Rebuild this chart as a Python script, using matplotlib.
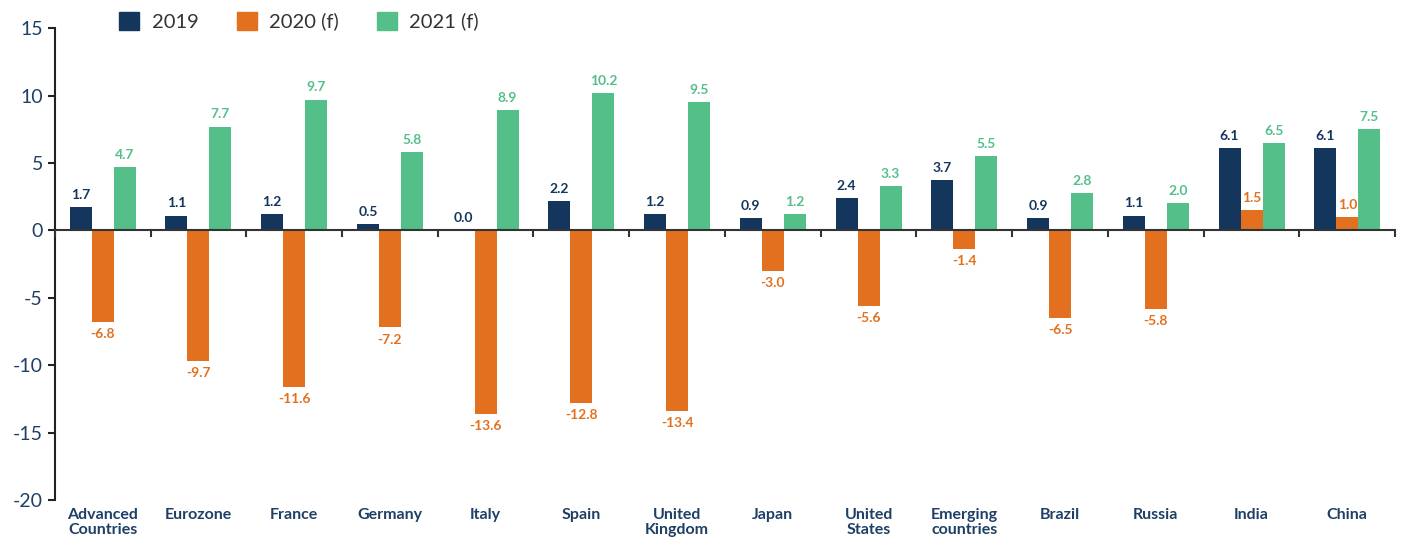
import numpy as np
import matplotlib.pyplot as plt
from matplotlib.patches import Patch

categories = ["Advanced\nCountries", "Eurozone", "France", "Germany", "Italy", "Spain",
              "United\nKingdom", "Japan", "United\nStates", "Emerging\ncountries",
              "Brazil", "Russia", "India", "China"]
series_names = ["2019", "2020 (f)", "2021 (f)"]
v2019 = [1.7, 1.1, 1.2, 0.5, 0.0, 2.2, 1.2, 0.9, 2.4, 3.7, 0.9, 1.1, 6.1, 6.1]
v2020 = [-6.8, -9.7, -11.6, -7.2, -13.6, -12.8, -13.4, -3.0, -5.6, -1.4, -6.5, -5.8, 1.5, 1.0]
v2021 = [4.7, 7.7, 9.7, 5.8, 8.9, 10.2, 9.5, 1.2, 3.3, 5.5, 2.8, 2.0, 6.5, 7.5]

colors = ["#14365D", "#E2701F", "#55BF8A"]
navy = "#1F3F66"

plt.rcParams['font.family'] = ['Lato', 'DejaVu Sans']
plt.rcParams['axes.unicode_minus'] = False

fig = plt.figure(figsize=(14.05, 5.4), dpi=100)
ax = fig.add_axes([0.039, 0.074, 0.954, 0.874])

x = np.arange(len(categories))
w = 0.23
for i, vals in enumerate([v2019, v2020, v2021]):
    pos = x + (i - 1) * w
    ax.bar(pos, vals, width=w, color=colors[i], zorder=2)
    for px, v in zip(pos, vals):
        off = 0.45 if v >= 0 else -0.45
        ax.text(px, v + off, f"{v:.1f}", ha="center", va="bottom" if v >= 0 else "top",
                fontsize=10, fontweight="bold", color=colors[i])

# zero line with category separator ticks
ax.axhline(0, color="#333333", lw=1.5, zorder=3)
for b in np.arange(len(categories) + 1) - 0.5:
    ax.plot([b, b], [0, -0.4], color="#333333", lw=1.5, zorder=3, clip_on=False)

ax.set_xlim(-0.5, len(categories) - 0.5)
ax.set_ylim(-20, 15)
ax.set_yticks(np.arange(-20, 16, 5))
ax.set_xticks(x)
ax.set_xticklabels(categories, fontsize=11.5, fontweight="bold", color=navy, linespacing=1.05)
ax.tick_params(axis="x", length=0, pad=6)
ax.tick_params(axis="y", labelsize=14, labelcolor=navy, color="#222222",
               length=5, width=1.5, direction="out")
for s in ["top", "right", "bottom"]:
    ax.spines[s].set_visible(False)
ax.spines["left"].set_color("#222222")
ax.spines["left"].set_linewidth(1.5)

handles = [Patch(color=c, label=n) for c, n in zip(colors, series_names)]
fig.legend(handles=handles, loc="upper left", bbox_to_anchor=(0.072, 1.012), ncol=3,
           frameon=False, fontsize=14.5, handlelength=1.0, handleheight=1.0,
           columnspacing=1.9, handletextpad=0.6, labelcolor="#333333")

fig.savefig("out.png", dpi=100)
